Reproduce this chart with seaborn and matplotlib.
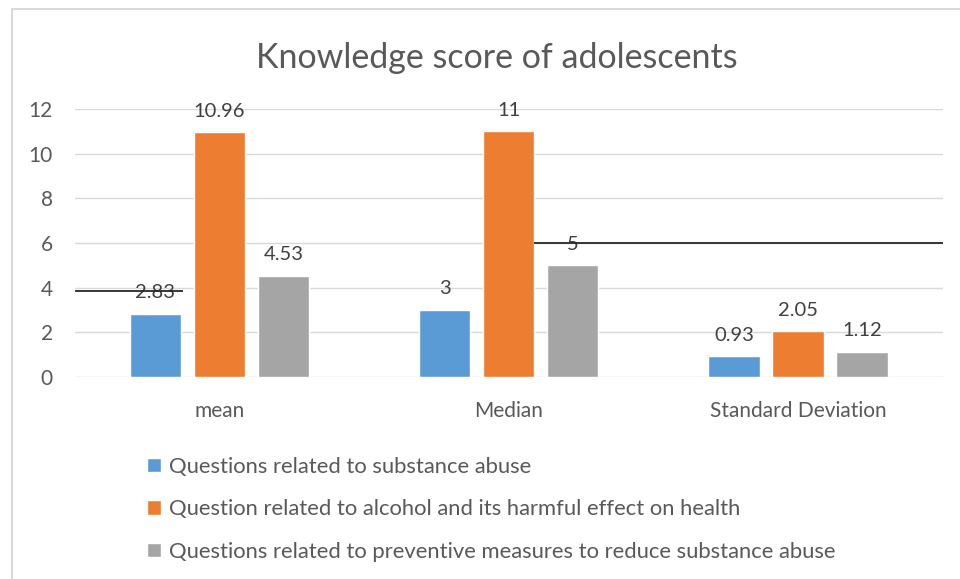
import pandas as pd
import seaborn as sns
import matplotlib.pyplot as plt

# data
stats = ["mean", "Median", "Standard Deviation"]
series = ["Questions related to substance abuse",
          "Question related to alcohol and its harmful effect on health",
          "Questions related to preventive measures to reduce substance abuse"]
substance = [2.83, 3, 0.93]
alcohol = [10.96, 11, 2.05]
preventive = [4.53, 5, 1.12]
labels = [["2.83", "3", "0.93"], ["10.96", "11", "2.05"], ["4.53", "5", "1.12"]]
colors = ["#5B9BD5", "#ED7D31", "#A5A5A5"]

# stray black rule lines visible in the original (y value, x start, x end)
rule_y = [3.85, 6.0]
rule_x0 = [-0.5, 1.087]
rule_x1 = [-0.125, 2.5]

rows = []
for name, vals in zip(series, [substance, alcohol, preventive]):
    for s, v in zip(stats, vals):
        rows.append({"stat": s, "series": name, "value": v})
df = pd.DataFrame(rows)

sns.set_style("white")
plt.rcParams['font.family'] = ['Lato', 'DejaVu Sans']
txt = "#595959"

fig = plt.figure(figsize=(9.6, 5.79), dpi=100)
ax = fig.add_axes([0.078, 0.349, 0.904, 0.463])

sns.barplot(data=df, x="stat", y="value", hue="series", palette=colors,
            width=0.664, gap=0.2, saturation=1, ax=ax, zorder=3)

for cont, labs in zip(ax.containers, labels):
    ax.bar_label(cont, labels=labs, padding=9, fontsize=14.5, color="#404040")

for y, a, b in zip(rule_y, rule_x0, rule_x1):
    ax.hlines(y, a, b, color="#262626", linewidth=1.3, zorder=5)

ax.set_xlim(-0.5, 2.5)
ax.set_ylim(0, 12)
ax.set_yticks(range(0, 13, 2))
ax.grid(axis="y", color="#d9d9d9", linewidth=1, zorder=0)
sns.despine(ax=ax, left=True, bottom=True)
ax.tick_params(axis="both", length=0, labelsize=15, colors=txt)
ax.tick_params(axis="y", pad=16)
ax.tick_params(axis="x", pad=17)
ax.set_xlabel("")
ax.set_ylabel("")

fig.text(0.517, 0.9, "Knowledge score of adolescents", ha="center", va="center",
         fontsize=24.5, color=txt)

h, l = ax.get_legend_handles_labels()
ax.legend(h, l, loc="upper left", bbox_to_anchor=(0.133, 0.245),
          bbox_transform=fig.transFigure, frameon=False, fontsize=15.8,
          labelcolor=txt, handlelength=0.62, handleheight=0.62,
          handletextpad=0.35, labelspacing=1.02)

# chart frame (left and top edge visible)
fig.add_artist(plt.Line2D([0.0125, 0.0125], [0, 0.985], color="#d9d9d9",
                          linewidth=1.5, transform=fig.transFigure))
fig.add_artist(plt.Line2D([0.0125, 1], [0.985, 0.985], color="#d9d9d9",
                          linewidth=1.5, transform=fig.transFigure))

fig.savefig("out.png", dpi=100, facecolor="white")
